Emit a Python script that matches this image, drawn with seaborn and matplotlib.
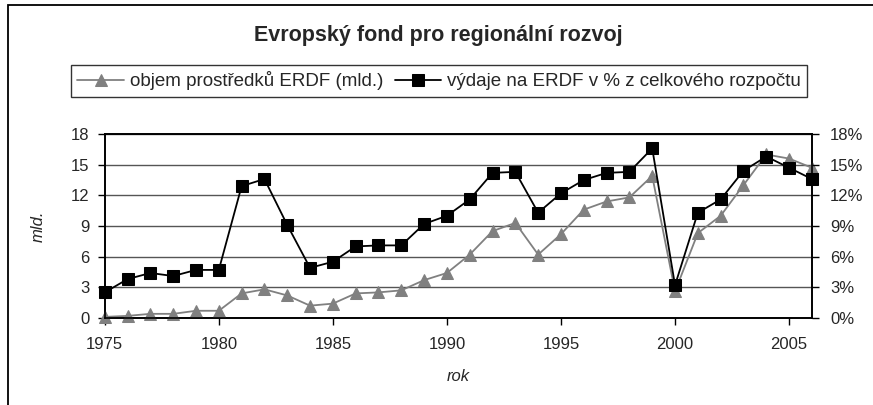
import pandas as pd
import matplotlib.pyplot as plt
import seaborn as sns
from matplotlib.patches import Rectangle
from matplotlib.ticker import FuncFormatter

years = list(range(1975, 2007))
objem_mld = [0.1, 0.2, 0.4, 0.4, 0.7, 0.7, 2.4, 2.8, 2.2, 1.2, 1.4, 2.4,
             2.5, 2.7, 3.7, 4.4, 6.2, 8.5, 9.3, 6.2, 8.2, 10.6, 11.4, 11.8,
             13.9, 2.6, 8.3, 10.0, 13.0, 16.0, 15.6, 14.7]
vydaje_pct = [2.5, 3.8, 4.4, 4.1, 4.7, 4.7, 12.9, 13.6, 9.1, 4.9, 5.5, 7.0,
              7.1, 7.1, 9.2, 10.0, 11.6, 14.2, 14.3, 10.3, 12.2, 13.5, 14.2, 14.3,
              16.6, 3.2, 10.3, 11.6, 14.4, 15.8, 14.7, 13.6]
y_ticks = [0, 3, 6, 9, 12, 15, 18]
x_ticks = [1975, 1980, 1985, 1990, 1995, 2000, 2005]

label_objem = "objem prostředků ERDF (mld.)"
label_vydaje = "výdaje na ERDF v % z celkového rozpočtu"

df = pd.DataFrame({"rok": years, "objem": objem_mld, "vydaje": vydaje_pct})

sns.set_style("white")
plt.rcParams["font.family"] = ["Liberation Sans", "DejaVu Sans"]

fig = plt.figure(figsize=(8.73, 4.05), dpi=100)
ax = fig.add_axes([0.120, 0.215, 0.810, 0.454])
ax2 = ax.twinx()

gray = "#808080"
sns.lineplot(data=df, x="rok", y="objem", ax=ax, color=gray, marker="^",
             markersize=9, markeredgecolor=gray, linewidth=1.3,
             label=label_objem, clip_on=False, zorder=3)
sns.lineplot(data=df, x="rok", y="vydaje", ax=ax2, color="black", marker="s",
             markersize=8, markeredgecolor="black", linewidth=1.3,
             label=label_vydaje, clip_on=False, zorder=4)

for a in (ax, ax2):
    a.set_ylim(0, 18)
    a.set_yticks(y_ticks)
    a.set_xlim(1975, 2006)
ax.set_xticks(x_ticks)

ax.yaxis.grid(True, color="#555555", linewidth=1)
ax.xaxis.grid(False)
ax2.grid(False)
ax.set_axisbelow(True)

ax2.yaxis.set_major_formatter(FuncFormatter(lambda v, p: f"{int(v)}%"))

for a in (ax, ax2):
    for s in a.spines.values():
        s.set_color("black")
        s.set_linewidth(1.2)
    a.tick_params(axis="both", direction="out", length=5, width=1,
                  color="black", labelsize=12)
    a.tick_params(axis="both", bottom=False, left=False, right=False)
ax.tick_params(axis="x", bottom=True, pad=9)
ax.tick_params(axis="y", left=True, pad=6)
ax2.tick_params(axis="y", right=True, pad=8)

ax.set_xlabel("rok", fontsize=12, style="italic", labelpad=12)
ax.set_ylabel("mld.", fontsize=12, style="italic", labelpad=18)
ax2.set_ylabel("")

h1, l1 = ax.get_legend_handles_labels()
h2, l2 = ax2.get_legend_handles_labels()
ax.get_legend().remove()
ax2.get_legend().remove()
leg = fig.legend(h1 + h2, l1 + l2, loc="center", bbox_to_anchor=(0.503, 0.80),
                 ncol=2, fontsize=13.5, frameon=True, fancybox=False,
                 edgecolor="black", handlelength=2.5, handletextpad=0.3,
                 columnspacing=0.6, borderpad=0.35)
leg.get_frame().set_linewidth(1)

fig.suptitle("Evropský fond pro regionální rozvoj", x=0.502, y=0.913,
             va="center", fontsize=15.5, fontweight="bold")

fig.patches.append(Rectangle((0.009, -0.1), 1.1, 1.088, transform=fig.transFigure,
                             fill=False, edgecolor="black", linewidth=1.3))

fig.savefig("out.png", dpi=100)
